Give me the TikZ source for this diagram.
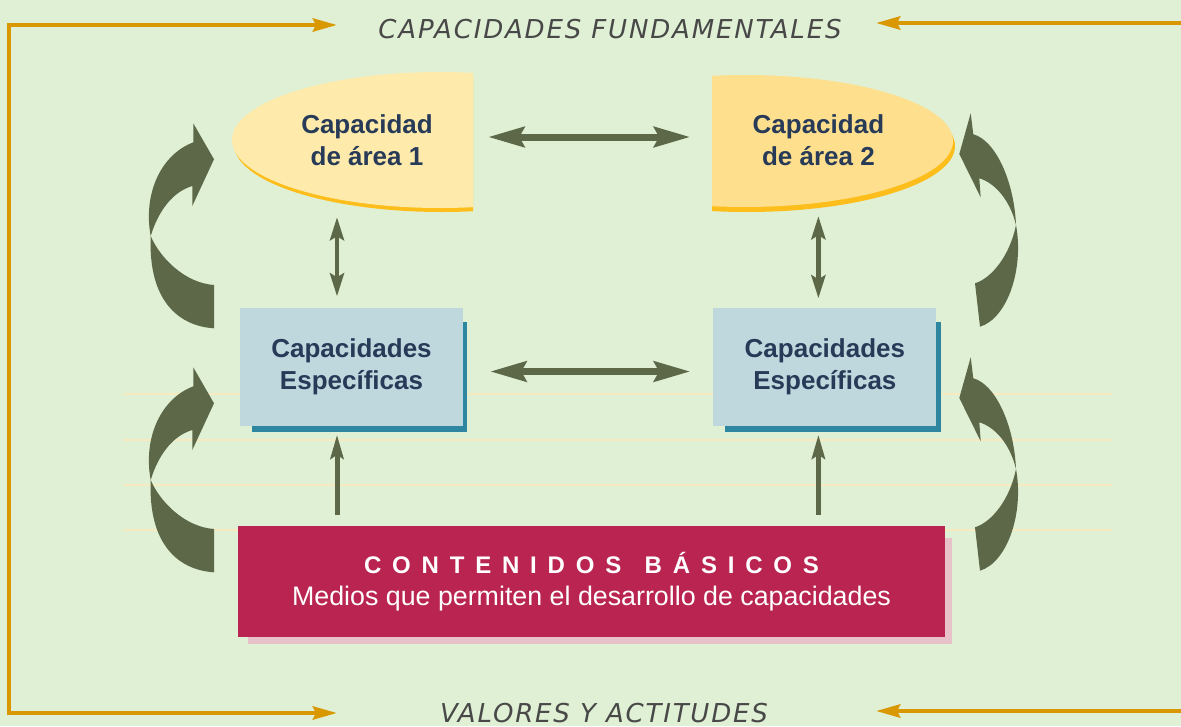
\documentclass[tikz,border=0pt]{standalone}
\usepackage{fontspec}
\setmainfont{Liberation Sans}
\newfontfamily\titulofont{DejaVu Sans}
\usetikzlibrary{positioning,arrows.meta,backgrounds}
\definecolor{fondo}{RGB}{224,240,212}
\definecolor{pauta}{RGB}{247,234,192}
\definecolor{amarillo1}{RGB}{254,234,170}
\definecolor{amarillo2}{RGB}{254,223,142}
\definecolor{ambar}{RGB}{253,189,26}
\definecolor{celeste}{RGB}{191,216,222}
\definecolor{petroleo}{RGB}{46,134,160}
\definecolor{granate}{RGB}{185,36,80}
\definecolor{rosado}{RGB}{232,194,200}
\definecolor{marino}{RGB}{39,58,87}
\definecolor{oliva}{RGB}{92,104,72}
\definecolor{naranja}{RGB}{217,152,0}
\definecolor{gris}{RGB}{72,72,72}
\tikzstyle{AreaBase}=[rectangle, minimum width=212pt, minimum height=136pt, align=center, text=marino, font=\bfseries\fontsize{26}{32}\selectfont]
\tikzstyle{EspecBase}=[rectangle, fill=celeste, minimum width=223pt, minimum height=118pt, align=center, text=marino, font=\bfseries\fontsize{26}{32}\selectfont]
\tikzstyle{ContenidoBase}=[rectangle, fill=granate, minimum width=707pt, minimum height=111pt, align=center, text=white, font=\fontsize{26.8}{32}\selectfont]
\tikzstyle{Titulo}=[text=gris, font=\titulofont\itshape\fontsize{26}{30}\selectfont\addfontfeature{LetterSpace=7}, anchor=base]
\tikzstyle{FlechaH}=[{Stealth[length=36pt,width=20pt,inset=5pt]}-{Stealth[length=36pt,width=20pt,inset=5pt]}, draw=oliva, line width=7pt]
\tikzstyle{FlechaV}=[{Stealth[length=23pt,width=14pt,inset=4pt]}-{Stealth[length=23pt,width=14pt,inset=4pt]}, draw=oliva, line width=4.5pt]
\tikzstyle{FlechaSube}=[-{Stealth[length=24pt,width=13pt,inset=4pt]}, draw=oliva, line width=5pt]
\tikzstyle{Marco}=[{Stealth[length=24pt,width=13pt,inset=3pt]}-{Stealth[length=24pt,width=13pt,inset=3pt]}, draw=naranja, line width=4.5pt]
\tikzstyle{MarcoUna}=[-{Stealth[length=24pt,width=13pt,inset=3pt]}, draw=naranja, line width=4.5pt]
\tikzstyle{Curva}=[fill=oliva]
\tikzstyle{Pauta}=[draw=pauta, line width=2.5pt]

\begin{document}
\begin{tikzpicture}[x=1pt, y=-1pt]
			\useasboundingbox (0,0) rectangle (1181,726);

			%Fondo
			\begin{scope}[on background layer]
				\fill[fondo] (0,0) rectangle (1181,726);
				\foreach \y in {394,440,485,530}
					\draw[Pauta] (123,\y) -- (1112,\y);
			\end{scope}

			%Ovalos
			\begin{scope}
				\clip (220,55) rectangle (473,230);
				\fill[ambar] (442,144) ellipse [x radius=208pt, y radius=68pt];
				\fill[amarillo1] (440,140) ellipse [x radius=208pt, y radius=68pt];
			\end{scope}
			\begin{scope}
				\clip (712,55) rectangle (975,230);
				\fill[ambar] (747,146) ellipse [x radius=208pt, y radius=66pt];
				\fill[amarillo2] (745,141) ellipse [x radius=208pt, y radius=66pt];
			\end{scope}

			%Nodos
			\node[AreaBase]		(area1)	at (367,140)				{Capacidad\\de área 1};
			\node[AreaBase]		(area2)	[right=239pt of area1]		{Capacidad\\de área 2};

			\node[EspecBase]		(espec1)	at (351.5,366.5)			{Capacidades\\Específicas};
			\node[EspecBase]		(espec2)	[right=250pt of espec1]	{Capacidades\\Específicas};

			\node[ContenidoBase]	(contenidos)	at (591.5,581.5)	{{\bfseries\fontsize{24}{32}\selectfont\addfontfeature{LetterSpace=45}CONTENIDOS\hspace{6pt} BÁSICOS\hspace{-10pt}}\\Medios que permiten el desarrollo de capacidades};

			\node[Titulo]		(tituloSup)	at (610,38)	{CAPACIDADES FUNDAMENTALES};
			\node[Titulo]		(tituloInf)	at (604,722)	{VALORES Y ACTITUDES};

			%Sombras
			\begin{scope}[on background layer]
				\fill[petroleo] ([xshift=12pt,yshift=-15pt]espec1.north west) rectangle ([xshift=4pt,yshift=-6pt]espec1.south east);
				\fill[petroleo] ([xshift=12pt,yshift=-15pt]espec2.north west) rectangle ([xshift=4pt,yshift=-6pt]espec2.south east);
				\fill[rosado] ([xshift=10pt,yshift=-12pt]contenidos.north west) rectangle ([xshift=7pt,yshift=-7pt]contenidos.south east);
			\end{scope}

			%Lineas
			\coordinate (eje1) at ([xshift=-30pt]area1.south);
			\coordinate (pie1) at ([xshift=-14.5pt]espec1.south);
			\coordinate (pie2) at ([xshift=-6.5pt]espec2.south);
			\draw[FlechaH, shorten <=15pt, shorten >=22pt] ([yshift=3pt]area1.east) -- ([yshift=3pt]area2.west);
			\draw[FlechaH, shorten <=27pt, shorten >=23pt] ([yshift=-5pt]espec1.east) -- ([yshift=-5pt]espec2.west);
			\draw[FlechaV, shorten <=9pt, shorten >=11pt] (eje1) -- (eje1 |- espec1.north);
			\draw[FlechaV, shorten <=8pt, shorten >=9pt] (area2.south) -- (area2.south |- espec2.north);
			\draw[FlechaSube, shorten <=11pt, shorten >=9pt] (pie1 |- contenidos.north) -- (pie1);
			\draw[FlechaSube, shorten <=11pt, shorten >=9pt] (pie2 |- contenidos.north) -- (pie2);

			%Marco
			\coordinate (esqSup) at (9,25);
			\coordinate (esqInf) at (9,713);
			\coordinate (puntaSup) at (337,25);
			\coordinate (puntaInf) at (337,713);
			\coordinate (bordeSup) at (1190,23);
			\coordinate (bordeInf) at (1190,711);
			\coordinate (puntaDerSup) at (876,23);
			\coordinate (puntaDerInf) at (876,711);
			\draw[Marco] (puntaSup) -- (esqSup) -- (esqInf) -- (puntaInf);
			\draw[MarcoUna] (bordeSup) -- (puntaDerSup);
			\draw[MarcoUna] (bordeInf) -- (puntaDerInf);

			%Curvas
			\foreach \dy in {0,244}{
				\begin{scope}[shift={(0,\dy)}]
					\fill[Curva] (214,285) -- (214,328.3) .. controls (178,326) and (148,300) .. (150.7,236) .. controls (143,195) and (160,155) .. (193.3,142.3) -- (193.3,123.3) -- (214,159.3) -- (192.3,206) -- (192.3,186) .. controls (172,192) and (158,212) .. (150.7,236) .. controls (160,258) and (185,283) .. (214,285) -- cycle;
					\fill[Curva] (975,283.3) -- (980,326.7) .. controls (1008,318) and (1024,268) .. (1016,225) .. controls (1014,180) and (995,140) .. (973.3,134.3) -- (970.7,113.3) -- (959.3,154) -- (980.7,197.3) -- (979.3,178.3) .. controls (995,183) and (1010,200) .. (1016,225) .. controls (1010,255) and (992,278) .. (975,283.3) -- cycle;
				\end{scope}
			}

		\end{tikzpicture}
\end{document}
